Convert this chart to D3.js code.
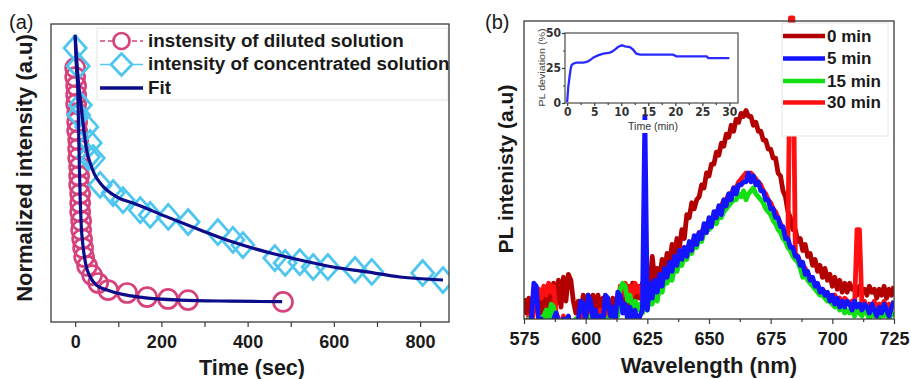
<!DOCTYPE html>
<html>
<head>
<meta charset="utf-8">
<script src="https://cdn.jsdelivr.net/npm/d3@7"></script>
<style>
  html, body { margin: 0; padding: 0; background: #fff; }
  svg { display: block; }
  text { font-family: 'Liberation Sans', Arial, Helvetica, sans-serif; }
</style>
</head>
<body>
<svg id="chart" width="911" height="379"></svg>
<script>
// ---------------- Panel (a): decay of normalized intensity ----------------
const dilutedTime = [0, 0, 2.3, 2.3, 2.3, 4.6, 4.6, 4.6, 7, 7, 7, 9.3, 9.3, 9.3, 11.6, 11.6, 11.6,
  13.9, 13.9, 16.2, 18.5, 20.9, 27.8, 39.4, 53.3, 76.5, 120.5, 166.9, 215.5, 261.9, 482];
const dilutedIntensity = [0.878, 0.844, 0.811, 0.778, 0.745, 0.711, 0.678, 0.645, 0.612, 0.579, 0.545,
  0.512, 0.479, 0.446, 0.413, 0.379, 0.346, 0.313, 0.280, 0.246, 0.213, 0.180, 0.147, 0.113, 0.084,
  0.058, 0.047, 0.032, 0.025, 0.021, 0.014];

const concTime = [0, 7, 12, 8, 27, 35, 31, 42, 58, 88, 111, 151, 174, 216, 262, 331, 366, 389,
  463, 487, 521, 552, 586, 649, 688, 806, 853];
const concIntensity = [0.951, 0.885, 0.741, 0.704, 0.66, 0.601, 0.549, 0.545, 0.446, 0.416, 0.39,
  0.353, 0.335, 0.328, 0.309, 0.272, 0.243, 0.224, 0.176, 0.158, 0.161, 0.143, 0.143, 0.132, 0.125,
  0.121, 0.095];

const fitDilutedTime = [0, 3, 6, 8, 10, 11.6, 14, 18.5, 25, 35, 50, 74, 110, 150, 243, 360, 480];
const fitDilutedValue = [0.99, 0.88, 0.80, 0.65, 0.50, 0.40, 0.30, 0.217, 0.15, 0.106, 0.075, 0.058,
  0.042, 0.032, 0.021, 0.017, 0.015];

const fitConcTime = [0, 4, 8, 11.6, 20, 28, 35, 45, 58, 97, 134, 213, 290, 366, 445, 521, 598, 677, 753, 853];
const fitConcValue = [1.0, 0.90, 0.82, 0.77, 0.65, 0.564, 0.527, 0.485, 0.453, 0.401, 0.379, 0.328,
  0.28, 0.235, 0.198, 0.169, 0.143, 0.125, 0.106, 0.095];

const timeTicks = [0, 200, 400, 600, 800];
const timeMinorTicks = [100, 300, 500, 700];
const legendALabels = ["instensity of diluted solution", "intensity of concentrated solution", "Fit"];

// ---------------- Panel (b): PL spectra (575–725 nm, 1 nm steps) ----------------
const wlStart = 575, wlEnd = 725;
const pl0min = [
  7, 2, 7, 1, 5, 3, 9, 2, 10, 3,
  10, 4, 12, 5, 13, 4, 14, 6, 15, 13,
  6, 2, 6, 1, 8, 2, 8, 3, 8, 2,
  8, 3, 7, 2, 6, 1, 7, 3, 6, 4,
  10, 4, 11, 5, 12, 6, 11, 7, 12, 9,
  14, 11, 21, 13, 17, 14, 20, 16, 22, 18,
  25, 22, 27, 24, 30, 27, 35, 34, 39, 37,
  40, 41, 45, 44, 49, 48, 52, 52, 56, 55,
  59, 58, 62, 61, 65, 63, 67, 66, 69, 68,
  70, 68, 68, 65, 66, 63, 63, 60, 60, 57,
  57, 54, 54, 49, 48, 43, 41, 36, 34, 30,
  30, 26, 27, 23, 25, 21, 22, 18, 20, 16,
  18, 14, 17, 13, 15, 11, 14, 10, 13, 9,
  12, 9, 12, 10, 11, 8, 11, 9, 10, 8,
  11, 9, 10, 7, 10, 8, 11, 7, 10, 8,
  11];
const pl5min = [
  -3, -1, -4, 0, 12, 11, -2, 0, -3, -1,
  -4, -2, 0, 2, -1, -3, 0, -2, 1, -3,
  -1, -4, 0, 6, 5, -1, 8, 6, 0, 3,
  -2, 1, -1, 8, 7, 1, 4, -1, 9, 8,
  2, 5, 0, 4, -1, 3, -2, 1, 3, 68,
  3, 12, 7, 13, 9, 15, 11, 17, 14, 19,
  16, 21, 18, 23, 20, 24, 21, 26, 23, 28,
  25, 29, 27, 32, 29, 34, 31, 36, 34, 38,
  35, 40, 38, 42, 40, 44, 42, 45, 45, 46,
  46, 49, 46, 48, 45, 46, 43, 43, 40, 40,
  37, 37, 34, 34, 31, 31, 27, 27, 24, 24,
  21, 21, 18, 19, 15, 16, 13, 14, 11, 12,
  9, 10, 8, 9, 6, 8, 5, 7, 4, 6,
  4, 6, 5, 3, 6, 4, 5, 3, 5, 4,
  2, 5, 3, 1, 4, 2, 5, 3, 1, 4,
  6];
const pl15min = [
  -2, -4, 0, -3, -1, -4, 0, -2, 1, 3,
  -1, 5, 4, -2, 0, -3, -1, -4, 0, -2,
  -3, 0, -1, -4, -2, 0, 1, -2, 0, 2,
  -1, 1, -2, 0, -1, 2, 0, 3, 1, 10,
  12, 11, 6, 8, 4, 6, 3, 5, 2, 4,
  3, 7, 5, 9, 6, 11, 9, 13, 12, 15,
  13, 17, 16, 19, 18, 21, 20, 23, 22, 25,
  24, 27, 26, 29, 32, 30, 31, 33, 32, 35,
  34, 36, 37, 38, 39, 40, 40, 42, 41, 43,
  40, 42, 43, 44, 42, 41, 40, 39, 37, 36,
  35, 33, 32, 30, 29, 27, 26, 24, 23, 21,
  20, 19, 17, 14, 15, 13, 12, 11, 10, 9,
  8, 8, 7, 6, 6, 5, 4, 5, 3, 4,
  2, 3, 2, 4, 1, 3, 2, 1, 3, 2,
  0, 3, 1, 2, 0, 2, 1, 3, 0, 2,
  1];
const pl30min = [
  0, -3, 1, -2, 3, 6, 10, 7, 11, 8,
  12, 9, 11, 2, 0, -3, 1, -2, 0, -1,
  -3, 0, -2, 1, -1, 0, -2, 2, -1, 1,
  -2, 3, 0, 2, -1, 3, 0, 4, 2, 11,
  8, 12, 9, 11, 8, 12, 9, 11, 7, 9,
  6, 10, 8, 12, 10, 14, 12, 16, 14, 18,
  17, 20, 19, 22, 21, 24, 23, 25, 25, 27,
  27, 29, 29, 31, 31, 33, 33, 35, 36, 37,
  38, 40, 40, 42, 42, 44, 44, 46, 47, 48,
  49, 48, 49, 48, 47, 46, 45, 43, 42, 40,
  39, 37, 36, 34, 32, 30, 28, 27, 101, 101,
  22, 21, 19, 18, 17, 15, 14, 13, 12, 11,
  10, 10, 9, 8, 8, 7, 8, 6, 7, 5,
  7, 6, 5, 6, 4, 30, 30, 4, 6, 3,
  5, 4, 6, 3, 5, 4, 6, 3, 5, 4,
  6];
const spectraLabels = ["0 min", "5 min", "15 min", "30 min"];
const spectraColors = ["#b30000", "#1414ff", "#12e012", "#ff1010"];
const wavelengthTicks = [575, 600, 625, 650, 675, 700, 725];
const wavelengthMinorTicks = [587.5, 612.5, 637.5, 662.5, 687.5, 712.5];

// Inset: PL deviation over time
const insetTime = [0, 0.2, 0.4, 0.6, 0.8, 1.1, 1.7, 3, 3.6, 4.2, 4.8, 5.7, 6.7, 7.9, 8.5, 9.4, 10.1,
  10.7, 11.6, 12.2, 12.8, 13.5, 19.6, 20.2, 25.8, 26.1, 30];
const insetDeviation = [0.7, 11.4, 17.4, 23.3, 26.9, 28.1, 28.8, 28.8, 29.3, 30.5, 32.4, 34, 35.2, 36,
  37.1, 40, 41.2, 40.5, 40, 38.1, 35.2, 34.5, 34.5, 33.3, 33.3, 32.1, 32.1];
const insetTimeTicks = [0, 5, 10, 15, 20, 25, 30];
const insetDevTicks = [0, 25, 50];

// ---------------------------------------------------------------------------
const svg = d3.select("#chart");
const textColor = "#1a1a1a";
const frameColor = "#3a3a3a";

function styleAxis(g, fontSize) {
  g.select(".domain").remove();
  g.selectAll(".tick line").attr("stroke", frameColor).attr("stroke-width", 1.2);
  g.selectAll(".tick text")
    .attr("fill", textColor)
    .style("font-size", fontSize + "px")
    .style("font-weight", "bold");
}

// ---------- Panel (a) ----------
const A = { left: 51, right: 449, top: 24, bottom: 322 };
const xA = d3.scaleLinear().domain([-56, 867]).range([A.left, A.right]);
const yA = d3.scaleLinear().domain([-0.06, 1.04]).range([A.bottom, A.top]);

svg.append("clipPath").attr("id", "clipA")
  .append("rect").attr("x", A.left).attr("y", A.top)
  .attr("width", A.right - A.left).attr("height", A.bottom - A.top);

const pink = "#d6437c", cyan = "#4fc6f0", navy = "#0c0c8a";

const gA = svg.append("g").attr("clip-path", "url(#clipA)");

gA.append("g").selectAll("circle")
  .data(dilutedTime.map((t, i) => [t, dilutedIntensity[i]]))
  .join("circle")
  .attr("cx", d => xA(d[0])).attr("cy", d => yA(d[1])).attr("r", 9.5)
  .attr("fill", "none").attr("stroke", pink).attr("stroke-width", 2.7);

const diamond = (cx, cy, rx, ry) => `M${cx},${cy - ry}L${cx + rx},${cy}L${cx},${cy + ry}L${cx - rx},${cy}Z`;

gA.append("g").selectAll("path")
  .data(concTime.map((t, i) => [t, concIntensity[i]]))
  .join("path")
  .attr("d", d => diamond(xA(d[0]), yA(d[1]), 11, 12.5))
  .attr("fill", "none").attr("stroke", cyan).attr("stroke-width", 2.8)
  .attr("stroke-linejoin", "miter");

const fitLine = d3.line().x(d => xA(d[0])).y(d => yA(d[1])).curve(d3.curveMonotoneX);
gA.append("path")
  .attr("d", fitLine(fitConcTime.map((t, i) => [t, fitConcValue[i]])))
  .attr("fill", "none").attr("stroke", navy).attr("stroke-width", 3.2);
gA.append("path")
  .attr("d", fitLine(fitDilutedTime.map((t, i) => [t, fitDilutedValue[i]])))
  .attr("fill", "none").attr("stroke", navy).attr("stroke-width", 3.2);

// legend (a)
const legA = svg.append("g").attr("clip-path", "url(#clipA)");
legA.append("rect").attr("x", 97).attr("y", 28).attr("width", 351).attr("height", 72)
  .attr("fill", "#fff").attr("stroke", "#e4e4e4").attr("stroke-width", 1);
const legARows = [41, 64.5, 88];
legA.append("line").attr("x1", 100).attr("x2", 143).attr("y1", legARows[0]).attr("y2", legARows[0])
  .attr("stroke", pink).attr("stroke-width", 1.3).attr("stroke-dasharray", "5,3");
legA.append("circle").attr("cx", 121.5).attr("cy", legARows[0]).attr("r", 8)
  .attr("fill", "#fff").attr("stroke", pink).attr("stroke-width", 2.7);
legA.append("line").attr("x1", 100).attr("x2", 143).attr("y1", legARows[1]).attr("y2", legARows[1])
  .attr("stroke", cyan).attr("stroke-width", 1.3);
legA.append("path").attr("d", diamond(121.5, legARows[1], 10.5, 11))
  .attr("fill", "#fff").attr("stroke", cyan).attr("stroke-width", 2.8);
legA.append("line").attr("x1", 100).attr("x2", 143).attr("y1", legARows[2]).attr("y2", legARows[2])
  .attr("stroke", navy).attr("stroke-width", 3.5);
legA.selectAll("text.leg").data(legendALabels).join("text")
  .attr("class", "leg")
  .attr("x", 148).attr("y", (d, i) => legARows[i] + 5.8)
  .attr("fill", textColor).style("font-size", "18.8px").style("font-weight", "bold")
  .text(d => d);

// axes (a)
const axA = svg.append("g").attr("transform", `translate(0,${A.bottom})`)
  .call(d3.axisBottom(xA).tickValues(timeTicks).tickSize(5).tickPadding(8).tickFormat(d3.format("d")));
styleAxis(axA, 18);
const axAm = svg.append("g").attr("transform", `translate(0,${A.bottom})`)
  .call(d3.axisBottom(xA).tickValues(timeMinorTicks).tickSize(5).tickFormat(""));
styleAxis(axAm, 18);

svg.append("rect").attr("x", A.left).attr("y", A.top)
  .attr("width", A.right - A.left).attr("height", A.bottom - A.top)
  .attr("fill", "none").attr("stroke", frameColor).attr("stroke-width", 1.3);

svg.append("text").attr("x", 9).attr("y", 29).attr("fill", textColor)
  .style("font-size", "20px").text("(a)");
svg.append("text").attr("transform", "translate(31.5,168) rotate(-90)")
  .attr("text-anchor", "middle").attr("fill", textColor)
  .style("font-size", "22px").style("font-weight", "bold").text("Normalized intensity (a.u)");
svg.append("text").attr("x", 252).attr("y", 374.5).attr("text-anchor", "middle").attr("fill", textColor)
  .style("font-size", "21.5px").style("font-weight", "bold").text("Time (sec)");

// ---------- Panel (b) ----------
const B = { left: 524, right: 894, top: 21, bottom: 319 };
const xB = d3.scaleLinear().domain([wlStart, wlEnd]).range([B.left, B.right]);
const yB = d3.scaleLinear().domain([0, 100]).range([B.bottom, B.top]);

svg.append("clipPath").attr("id", "clipB")
  .append("rect").attr("x", B.left).attr("y", 0)
  .attr("width", B.right - B.left).attr("height", B.bottom);

const wavelengths = d3.range(wlStart, wlEnd + 1);
const spectra = [pl0min, pl5min, pl15min, pl30min];
// drawing order: 0 min underneath, then 30, 15, 5 min on top
const drawOrder = [0, 3, 2, 1];
const specLine = d3.line().x(d => xB(d[0])).y(d => yB(d[1]));
const gB = svg.append("g").attr("clip-path", "url(#clipB)");
drawOrder.forEach(k => {
  gB.append("path")
    .attr("d", specLine(wavelengths.map((w, i) => [w, spectra[k][i]])))
    .attr("fill", "none").attr("stroke", spectraColors[k])
    .attr("stroke-width", 4.8).attr("stroke-linejoin", "round");
});

// axes (b)
const axB = svg.append("g").attr("transform", `translate(0,${B.bottom})`)
  .call(d3.axisBottom(xB).tickValues(wavelengthTicks).tickSize(5).tickPadding(8).tickFormat(d3.format("d")));
styleAxis(axB, 18);
const axBm = svg.append("g").attr("transform", `translate(0,${B.bottom})`)
  .call(d3.axisBottom(xB).tickValues(wavelengthMinorTicks).tickSize(3).tickFormat(""));
styleAxis(axBm, 18);

svg.append("rect").attr("x", B.left).attr("y", B.top)
  .attr("width", B.right - B.left).attr("height", B.bottom - B.top)
  .attr("fill", "none").attr("stroke", frameColor).attr("stroke-width", 1.3);

// legend (b)
const legB = svg.append("g");
legB.append("rect").attr("x", 782).attr("y", 23).attr("width", 106).attr("height", 113)
  .attr("fill", "#fff").attr("stroke", "#e6e6e6").attr("stroke-width", 1);
const legBRows = [36, 58.5, 81, 102.5];
spectraLabels.forEach((lab, i) => {
  legB.append("line").attr("x1", 783).attr("x2", 825).attr("y1", legBRows[i]).attr("y2", legBRows[i])
    .attr("stroke", spectraColors[i]).attr("stroke-width", 4.5);
  legB.append("text").attr("x", 827).attr("y", legBRows[i] + 5.6).attr("fill", textColor)
    .style("font-size", "17px").style("font-weight", "bold").text(lab);
});

// inset
const I = { left: 565, right: 738, top: 33, bottom: 103 };
const xI = d3.scaleLinear().domain([-0.4, 31.6]).range([I.left, I.right]);
const yI = d3.scaleLinear().domain([0, 50]).range([I.bottom, I.top]);
const inset = svg.append("g");
inset.append("rect").attr("x", 537).attr("y", 27).attr("width", 204).attr("height", 80).attr("fill", "#fff");
inset.append("path")
  .attr("d", d3.line().x(d => xI(d[0])).y(d => yI(d[1]))(insetTime.map((t, i) => [t, insetDeviation[i]])))
  .attr("fill", "none").attr("stroke", "#2a2aff").attr("stroke-width", 2.3);
inset.append("rect").attr("x", I.left).attr("y", I.top)
  .attr("width", I.right - I.left).attr("height", I.bottom - I.top)
  .attr("fill", "none").attr("stroke", frameColor).attr("stroke-width", 1.1);

const narrow = "'Liberation Sans Narrow', 'Arial Narrow', 'DejaVu Sans Condensed', sans-serif";
const axI = inset.append("g").attr("transform", `translate(0,${I.bottom})`)
  .call(d3.axisBottom(xI).tickValues(insetTimeTicks).tickSize(3).tickPadding(1));
styleAxis(axI, 12);
axI.selectAll(".tick text").style("font-family", narrow).attr("fill", "#333");
const axIm = inset.append("g").attr("transform", `translate(0,${I.bottom})`)
  .call(d3.axisBottom(xI).tickValues([2.5, 7.5, 12.5, 17.5, 22.5, 27.5]).tickSize(2).tickFormat(""));
styleAxis(axIm, 12);
const ayI = inset.append("g").attr("transform", `translate(${I.left},0)`)
  .call(d3.axisLeft(yI).tickValues(insetDevTicks).tickSize(3).tickPadding(1));
styleAxis(ayI, 12);
ayI.selectAll(".tick text").style("font-family", narrow).attr("fill", "#333");
const ayIm = inset.append("g").attr("transform", `translate(${I.left},0)`)
  .call(d3.axisLeft(yI).tickValues([12.5, 37.5]).tickSize(2).tickFormat(""));
styleAxis(ayIm, 12);

inset.append("rect").attr("x", 626).attr("y", 120).attr("width", 55).attr("height", 13).attr("fill", "#fff");
inset.append("text").attr("x", 653).attr("y", 130).attr("text-anchor", "middle")
  .attr("fill", "#333").attr("textLength", 50).attr("lengthAdjust", "spacingAndGlyphs")
  .style("font-size", "11px").text("Time (min)");
inset.append("text").attr("transform", "translate(545,67.5) rotate(-90)")
  .attr("text-anchor", "middle").attr("fill", "#444")
  .attr("textLength", 78).attr("lengthAdjust", "spacingAndGlyphs")
  .style("font-size", "9px").text("PL deviation (%)");

svg.append("text").attr("x", 485).attr("y", 29).attr("fill", textColor)
  .style("font-size", "20px").text("(b)");
svg.append("text").attr("transform", "translate(513,169) rotate(-90)")
  .attr("text-anchor", "middle").attr("fill", textColor)
  .style("font-size", "21px").style("font-weight", "bold").text("PL intenisty (a.u)");
svg.append("text").attr("x", 709).attr("y", 373).attr("text-anchor", "middle").attr("fill", textColor)
  .style("font-size", "22px").style("font-weight", "bold").text("Wavelength (nm)");
</script>
</body>
</html>
